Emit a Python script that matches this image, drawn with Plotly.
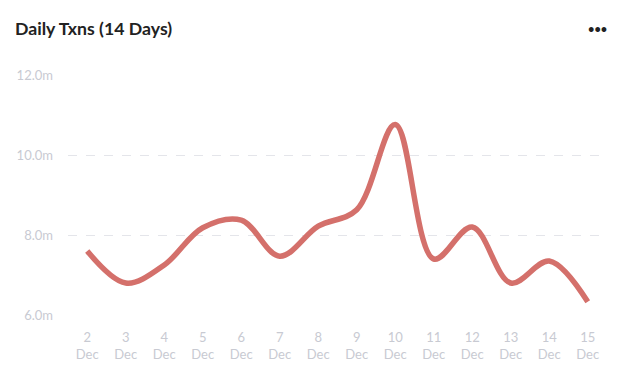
import plotly.graph_objects as go

days = ["2", "3", "4", "5", "6", "7", "8", "9", "10", "11", "12", "13", "14", "15"]
month = "Dec"
txns_m = [7.6, 6.8, 7.25, 8.18, 8.37, 7.47, 8.22, 8.63, 10.76, 7.4, 8.2, 6.8, 7.35, 6.33]
y_ticks = [6, 8, 10, 12]

x_labels = [f"{d}<br>{month}" for d in days]

fig = go.Figure()
fig.add_trace(go.Scatter(
    x=x_labels, y=txns_m, mode="lines",
    line=dict(color="#d4706b", width=5.5, shape="spline", smoothing=1.0),
    hoverinfo="skip", cliponaxis=False,
))

grid = "#e4e5ea"
tickc = "#c8cad2"
W, H = 632, 357
L, R, T, B = 60, 33, 67, 50
pw, ph = W - L - R, H - T - B
fig.update_layout(
    width=W, height=H,
    margin=dict(l=L, r=R, t=T, b=B),
    paper_bgcolor="white", plot_bgcolor="white",
    showlegend=False,
    font=dict(family="Lato, sans-serif", color=tickc, size=12),
    xaxis=dict(
        type="category", range=[-0.5, 13.5], showgrid=False, zeroline=False,
        showline=False, ticks="", tickfont=dict(size=13, color=tickc),
        ticklabelstandoff=13, fixedrange=True, automargin=False,
    ),
    yaxis=dict(
        range=[6, 12], tickvals=y_ticks, ticktext=[f"{v:.1f}m" for v in y_ticks],
        showgrid=True, gridcolor=grid, griddash="dash", gridwidth=1,
        zeroline=False, showline=False, ticks="",
        tickfont=dict(size=13, color=tickc), ticklabelstandoff=14,
        fixedrange=True, automargin=False,
    ),
    annotations=[
        dict(text="<b>Daily Txns (14 Days)</b>", xref="paper", yref="paper",
             x=(5 - L) / pw, y=1 + (T - 20) / ph, xanchor="left", yanchor="middle",
             showarrow=False, font=dict(family="Lato, sans-serif", size=17.7, color="#222222")),
        dict(text="<b>•••</b>", xref="paper", yref="paper",
             x=1 + 2 / pw, y=1 + (T - 20) / ph, xanchor="right", yanchor="middle",
             showarrow=False, font=dict(family="Lato, sans-serif", size=11, color="#222222")),
    ],
)

fig.write_html("out.html", config={"displayModeBar": False})
